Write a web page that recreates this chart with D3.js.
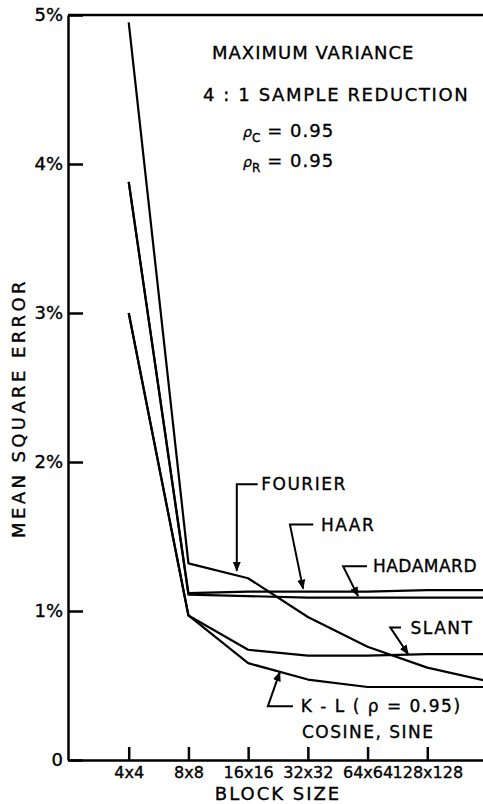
<!DOCTYPE html>
<html>
<head>
<meta charset="utf-8">
<script src="https://cdn.jsdelivr.net/npm/d3@7"></script>
<style>
	body { margin: 0; background: #fff; }
	text { font-family: "DejaVu Sans", sans-serif; fill: #000; stroke: #000; stroke-width: 0.35px; }
</style>
</head>
<body>
<div id="chart-area"></div>
<script>

// block size categories (log2 of the block side runs 2..8)
const blockSizes = ["4x4", "8x8", "16x16", "32x32", "64x64", "128x128", "256x256"];
const blockLog = [2, 3, 4, 5, 6, 7, 8];
const tickLabels = ["4x4", "8x8", "16x16", "32x32", "64x64", "128x128"];
const yTicks = [0, 1, 2, 3, 4, 5];

// mean square error in %
const fourier  = [4.95, 1.32, 1.22, 0.96, 0.76, 0.62, 0.53];
const haar     = [3.88, 1.12, 1.13, 1.13, 1.13, 1.14, 1.14];
const hadamard = [3.88, 1.11, 1.10, 1.09, 1.09, 1.09, 1.09];
const slant    = [3.00, 0.97, 0.74, 0.70, 0.70, 0.71, 0.71];
const kl       = [3.00, 0.97, 0.65, 0.54, 0.49, 0.49, 0.49];

const series = [fourier, haar, hadamard, slant, kl];

let svg = d3.select("#chart-area").append("svg")
	.attr("width", 483)
	.attr("height", 804)

let x = d3.scaleLinear().domain([1, 8]).range([69, 487]);
let y = d3.scaleLinear().domain([0, 5]).range([760, 15]);

// frame top
svg.append("line")
	.attr("x1", 68).attr("x2", 483)
	.attr("y1", y(5)).attr("y2", y(5))
	.attr("stroke", "#000").attr("stroke-width", 2.5)

// y axis, ticks pointing inward
let yAxis = svg.append("g")
	.attr("transform", "translate(68,0)")
	.call(d3.axisLeft(y).tickValues(yTicks).tickSize(-15).tickSizeOuter(0).tickPadding(5)
		.tickFormat(d => d === 0 ? "0" : d + "%"))
yAxis.select(".domain").attr("stroke-width", 2.5)
yAxis.selectAll(".tick line").attr("stroke-width", 2.5)
yAxis.selectAll("text")
	.style("font-family", "DejaVu Sans").style("font-size", "18px")

// x axis
let xAxis = svg.append("g")
	.attr("transform", "translate(0," + y(0) + ")")
	.call(d3.axisBottom(x).tickValues(blockLog.slice(0, tickLabels.length)).tickSize(-13).tickSizeOuter(0).tickPadding(7)
		.tickFormat((d, i) => tickLabels[i]))
xAxis.select(".domain").attr("stroke-width", 2.5)
xAxis.selectAll(".tick line").attr("stroke-width", 2.5)
xAxis.selectAll("text")
	.style("font-family", "DejaVu Sans").style("font-size", "16px")

// axis titles
svg.append("text")
	.attr("x", 278).attr("y", 800)
	.attr("text-anchor", "middle")
	.style("font-size", "18px").style("letter-spacing", "2px")
	.text("BLOCK  SIZE")

svg.append("text")
	.attr("transform", "translate(25,408) rotate(-90)")
	.attr("text-anchor", "middle")
	.style("font-size", "18px").style("letter-spacing", "3.4px")
	.text("MEAN  SQUARE  ERROR")

// curves
let line = d3.line()
	.x((d, i) => x(blockLog[i]))
	.y(d => y(d))

svg.selectAll(".curve")
	.data(series)
	.enter().append("path")
	.attr("class", "curve")
	.attr("d", line)
	.attr("fill", "none")
	.attr("stroke", "#000")
	.attr("stroke-width", 2.2)
	.attr("stroke-linejoin", "round")

// labels with leader lines, given in data units
const notes = [
	{ text: "FOURIER",  tip: [3.81, 1.27], elbow: [3.81, 1.85], end: 4.16, tx: 4.22 },
	{ text: "HAAR",     tip: [4.92, 1.15], elbow: [4.70, 1.58], end: 5.09, tx: 5.22 },
	{ text: "HADAMARD", tip: [5.84, 1.10], elbow: [5.59, 1.30], end: 5.99, tx: 6.09 },
	{ text: "SLANT",    tip: [6.68, 0.71], elbow: [6.38, 0.89], end: 6.56, tx: 6.72 },
	{ text: "K - L ( \u03C1 = 0.95)", tip: [4.53, 0.59], elbow: [4.33, 0.36], end: 4.75, tx: 4.88 }
];

svg.append("defs").append("marker")
	.attr("id", "arrow")
	.attr("viewBox", "0 0 10 10")
	.attr("refX", 9).attr("refY", 5)
	.attr("markerWidth", 5).attr("markerHeight", 5)
	.attr("orient", "auto")
	.append("path").attr("d", "M0,1 L10,5 L0,9 Z").attr("fill", "#000")

svg.selectAll(".leader")
	.data(notes)
	.enter().append("path")
	.attr("class", "leader")
	.attr("d", d => "M" + x(d.end) + "," + y(d.elbow[1]) + "L" + x(d.elbow[0]) + "," + y(d.elbow[1]) + "L" + x(d.tip[0]) + "," + y(d.tip[1]))
	.attr("fill", "none")
	.attr("stroke", "#000")
	.attr("stroke-width", 2)
	.attr("marker-end", "url(#arrow)")

svg.selectAll(".note")
	.data(notes)
	.enter().append("text")
	.attr("class", "note")
	.attr("x", d => x(d.tx))
	.attr("y", d => y(d.elbow[1]))
	.attr("dy", "0.36em")
	.style("font-size", "17px").style("letter-spacing", d => d.text == "HADAMARD" ? "0.5px" : "1.5px")
	.text(d => d.text)

svg.append("text")
	.attr("x", x(4.9)).attr("y", y(0.19))
	.attr("dy", "0.36em")
	.style("font-size", "17px").style("letter-spacing", "1.5px")
	.text("COSINE, SINE")

// conditions block
svg.append("text")
	.attr("x", 212).attr("y", 59)
	.style("font-size", "18px").style("letter-spacing", "1px")
	.text("MAXIMUM  VARIANCE")

svg.append("text")
	.attr("x", 203).attr("y", 101)
	.style("font-size", "18px").style("letter-spacing", "1.6px")
	.text("4 : 1  SAMPLE  REDUCTION")

const rhos = [["C", 137], ["R", 167]];
rhos.forEach(function (r) {
	let t = svg.append("text")
		.attr("x", 243).attr("y", r[1])
		.style("font-size", "18px")
	t.append("tspan").style("font-style", "italic").style("font-size", "14px").text("\u03C1")
	t.append("tspan").attr("dy", 5).style("font-size", "12px").text(r[0])
	t.append("tspan").attr("dy", -5).attr("dx", 7).style("letter-spacing", "1px").text("= 0.95")
})

</script>
</body>
</html>
